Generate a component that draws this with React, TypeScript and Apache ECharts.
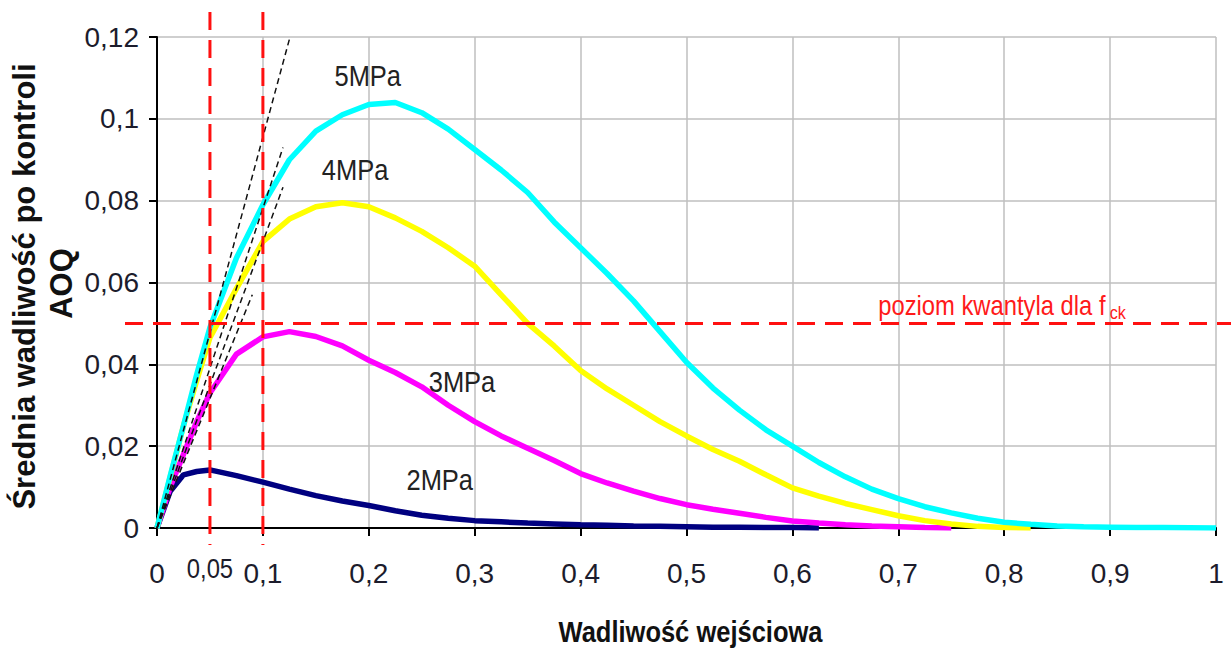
import React, { useEffect, useRef } from "react";
import * as echarts from "echarts";

// Input defect rate (x) sample points
const X_VALUES = [
  0, 0.0125, 0.025, 0.0375, 0.05, 0.075, 0.1, 0.125, 0.15, 0.175, 0.2, 0.225, 0.25, 0.275, 0.3,
  0.325, 0.35, 0.375, 0.4, 0.425, 0.45, 0.475, 0.5, 0.525, 0.55, 0.575, 0.6, 0.625, 0.65, 0.675,
  0.7, 0.725, 0.75, 0.775, 0.8, 0.825, 0.85, 0.875, 0.9, 0.925, 0.95, 0.975, 1.0,
];

// AOQ for each sigma value
const AOQ_5MPA = [
  0, 0.0128, 0.025, 0.0375, 0.049, 0.066, 0.079, 0.09, 0.097, 0.101, 0.1035, 0.104, 0.1015, 0.0975,
  0.0925, 0.0875, 0.082, 0.0748, 0.0685, 0.0622, 0.0555, 0.048, 0.0405, 0.0342, 0.0288, 0.024, 0.02,
  0.016, 0.0125, 0.0095, 0.0072, 0.0052, 0.0037, 0.0024, 0.0014, 0.0009, 0.0005, 0.0003, 0.0002,
  0.0001, 0.0001, 0.00005, 0,
];
const AOQ_4MPA = [
  0, 0.0125, 0.025, 0.036, 0.0465, 0.0585, 0.07, 0.0755, 0.0785, 0.0795, 0.0785, 0.0758, 0.0725,
  0.0685, 0.064, 0.057, 0.05, 0.0445, 0.0385, 0.034, 0.03, 0.026, 0.0225, 0.0192, 0.0163, 0.013,
  0.0098, 0.0078, 0.006, 0.0045, 0.003, 0.0018, 0.001, 0.0004, 0.0001, 0,
];
const AOQ_3MPA = [
  0, 0.01, 0.018, 0.026, 0.033, 0.0425, 0.0467, 0.048, 0.0468, 0.0445, 0.041, 0.038, 0.0345,
  0.03, 0.026, 0.0225, 0.0195, 0.0165, 0.0133, 0.011, 0.009, 0.0072, 0.0057, 0.0046, 0.0036,
  0.0026, 0.0017, 0.0012, 0.0008, 0.0005, 0.0003, 0.0001, 0,
];
const AOQ_2MPA = [
  0, 0.009, 0.013, 0.0138, 0.0142, 0.0128, 0.0112, 0.0095, 0.0079, 0.0066, 0.0055, 0.0042,
  0.0031, 0.0024, 0.0018, 0.0015, 0.0012, 0.001, 0.0008, 0.0007, 0.0005, 0.0004, 0.0003, 0.0002,
  0.0002, 0.0001, 0.0001, 0,
];

const SERIES_NAMES = ["2MPa", "3MPa", "4MPa", "5MPa"];
const SERIES_DATA = [AOQ_2MPA, AOQ_3MPA, AOQ_4MPA, AOQ_5MPA];
const SERIES_COLORS = ["#000080", "#ff00ff", "#ffff00", "#00ffff"];
// label anchor positions (data coordinates)
const LABEL_X = [0.267, 0.288, 0.187, 0.199];
const LABEL_Y = [0.0117, 0.0357, 0.0875, 0.1105];

// dashed tangent lines from the origin: end points
const TANGENT_END_X = [0.1256, 0.119, 0.119, 0.09];
const TANGENT_END_Y = [0.12, 0.093, 0.0833, 0.057];

// reference lines
const REF_X = [0.05, 0.1];
const REF_Y = 0.05;
const EXTRA_X_LABEL = 0.05;
const REF_LABEL_X = 0.681;

const X_MIN = 0;
const X_MAX = 1;
const X_INTERVAL = 0.1;
const Y_MIN = 0;
const Y_MAX = 0.12;
const Y_INTERVAL = 0.02;

const Y_TITLE = ["Średnia wadliwość po kontroli", "AOQ"];
const X_TITLE = "Wadliwość wejściowa";
const REF_LABEL = "poziom kwantyla dla f";
const REF_LABEL_SUB = "ck";

const FONT = '"Liberation Sans", Arial, sans-serif';
const TEXT_COLOR = "#1c1c2c";
const SQUEEZE = 0.85;

const fmt = (v: number) => String(+v.toFixed(2)).replace(".", ",");

export default function App() {
  const ref = useRef<HTMLDivElement>(null);

  useEffect(() => {
    document.body.style.margin = "0";
    if (!ref.current) return;
    const chart = echarts.init(ref.current, undefined, { renderer: "svg" });
    const W = 1231;

    const curveSeries = SERIES_DATA.map((arr, i) => ({
      type: "line",
      name: SERIES_NAMES[i],
      data: arr.map((y, k) => [X_VALUES[k], y]),
      symbol: "none",
      smooth: false,
      lineStyle: { color: SERIES_COLORS[i], width: 5.5 },
      z: 3 + i,
    }));
    const tangentSeries = TANGENT_END_X.map((ex, i) => ({
      type: "line",
      data: [
        [0, 0],
        [ex, TANGENT_END_Y[i]],
      ],
      symbol: "none",
      lineStyle: { color: "#111", width: 1.5, type: [6, 4] },
      z: 10,
    }));

    chart.setOption({
      animation: false,
      backgroundColor: "#fff",
      grid: { left: 157, right: 15, top: 37, bottom: 120 },
      xAxis: {
        type: "value",
        min: X_MIN,
        max: X_MAX,
        interval: X_INTERVAL,
        axisLine: { show: true, lineStyle: { color: "#000", width: 2 } },
        axisTick: { show: true, length: 8, lineStyle: { color: "#000", width: 2 } },
        axisLabel: {
          margin: 31,
          fontFamily: FONT,
          fontSize: 28,
          color: TEXT_COLOR,
          formatter: (v: number) => fmt(v),
        },
        splitLine: { show: true, lineStyle: { color: "#bfbfbf", width: 1.5 } },
      },
      yAxis: {
        type: "value",
        min: Y_MIN,
        max: Y_MAX,
        interval: Y_INTERVAL,
        axisLine: { show: true, lineStyle: { color: "#000", width: 2 } },
        axisTick: { show: true, length: 8, lineStyle: { color: "#000", width: 2 } },
        axisLabel: {
          margin: 18,
          fontFamily: FONT,
          fontSize: 28,
          color: TEXT_COLOR,
          formatter: (v: number) => fmt(v),
        },
        splitLine: { show: true, lineStyle: { color: "#bfbfbf", width: 1.5 } },
      },
      series: [...curveSeries, ...tangentSeries],
    });

    const p = (x: number, y: number) => chart.convertToPixel({ gridIndex: 0 }, [x, y]) as number[];
    const [x0, y0] = p(X_MIN, Y_MIN);
    const [x1, yTop] = p(X_MAX, Y_MAX);

    const graphics: any[] = [];
    REF_X.forEach((rx) => {
      const px = p(rx, 0)[0];
      graphics.push({
        type: "line",
        shape: { x1: px, y1: yTop - 25, x2: px, y2: y0 + 17 },
        style: { stroke: "#ff1010", lineWidth: 3, lineDash: [18, 10] },
        z: 20,
      });
    });
    const hy = p(0, REF_Y)[1];
    graphics.push({
      type: "line",
      shape: { x1: x0 - 32, y1: hy, x2: W, y2: hy },
      style: { stroke: "#ff1010", lineWidth: 3, lineDash: [18, 10] },
      z: 20,
    });

    // reference label with subscript
    const canvas = document.createElement("canvas");
    const ctx = canvas.getContext("2d")!;
    ctx.font = `28px ${FONT}`;
    const mainW = ctx.measureText(REF_LABEL).width * SQUEEZE;
    const lx = p(REF_LABEL_X, 0)[0];
    graphics.push({
      type: "text",
      x: lx,
      y: hy - 4,
      scaleX: SQUEEZE,
      style: {
        text: REF_LABEL,
        fontFamily: FONT,
        fontSize: 28,
        fill: "#ff1a1a",
        align: "left",
        verticalAlign: "bottom",
      },
      z: 21,
    });
    graphics.push({
      type: "text",
      x: lx + mainW + 4,
      y: hy - 1,
      scaleX: SQUEEZE,
      style: {
        text: REF_LABEL_SUB,
        fontFamily: FONT,
        fontSize: 19,
        fill: "#ff1a1a",
        align: "left",
        verticalAlign: "bottom",
      },
      z: 21,
    });

    // extra x label 0,05
    graphics.push({
      type: "text",
      x: p(EXTRA_X_LABEL, 0)[0],
      y: y0 + 40,
      scaleX: SQUEEZE,
      style: {
        text: fmt(EXTRA_X_LABEL),
        fontFamily: FONT,
        fontSize: 28,
        fill: TEXT_COLOR,
        align: "center",
        verticalAlign: "middle",
      },
      z: 21,
    });

    // curve labels
    SERIES_NAMES.forEach((name, i) => {
      const [lxp, lyp] = p(LABEL_X[i], LABEL_Y[i]);
      graphics.push({
        type: "text",
        x: lxp,
        y: lyp,
        scaleX: SQUEEZE,
        style: {
          text: name,
          fontFamily: FONT,
          fontSize: 30,
          fill: "#222",
          align: "center",
          verticalAlign: "middle",
        },
        z: 21,
      });
    });

    // axis titles
    const cy = (y0 + yTop) / 2;
    graphics.push({
      type: "text",
      x: 24,
      y: cy + 4,
      rotation: Math.PI / 2,
      style: {
        text: Y_TITLE[0],
        fontFamily: FONT,
        fontWeight: "bold",
        fontSize: 31,
        fill: "#111",
        align: "center",
        verticalAlign: "middle",
      },
    });
    graphics.push({
      type: "text",
      x: 61,
      y: cy + 1,
      rotation: Math.PI / 2,
      style: {
        text: Y_TITLE[1],
        fontFamily: FONT,
        fontWeight: "bold",
        fontSize: 31,
        fill: "#111",
        align: "center",
        verticalAlign: "middle",
      },
    });
    graphics.push({
      type: "text",
      x: (x0 + x1) / 2 + 4,
      y: 632,
      scaleX: SQUEEZE,
      style: {
        text: X_TITLE,
        fontFamily: FONT,
        fontWeight: "bold",
        fontSize: 30,
        fill: "#111",
        align: "center",
        verticalAlign: "middle",
      },
    });

    chart.setOption({ graphic: graphics });

    return () => chart.dispose();
  }, []);

  return <div ref={ref} style={{ width: 1231, height: 648 }} />;
}
